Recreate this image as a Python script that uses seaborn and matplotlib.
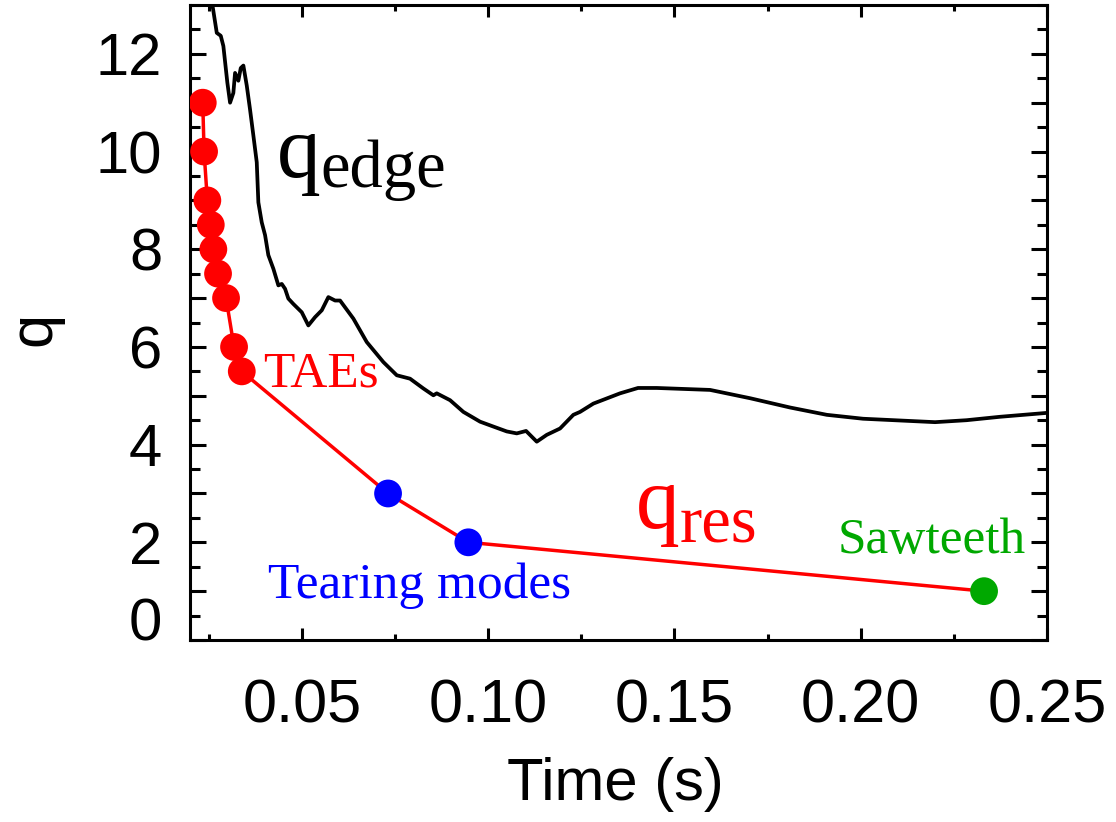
import matplotlib
matplotlib.use('Agg')
import matplotlib.pyplot as plt
from matplotlib.ticker import MultipleLocator, FixedLocator
import seaborn as sns

# ================================
# style
# ================================
sns.set_style('ticks')
plt.rcParams['font.family'] = ['Liberation Sans', 'DejaVu Sans']
plt.rcParams['text.color'] = 'black'
plt.rcParams['axes.labelcolor'] = 'black'
plt.rcParams['xtick.color'] = 'black'
plt.rcParams['ytick.color'] = 'black'

# ================================
# data
# ================================
# edge safety factor trace
t_edge = [0.0255, 0.02625, 0.02717, 0.02824, 0.02894, 0.03001, 0.03074, 0.03162,
          0.03208, 0.03296, 0.03361, 0.03431, 0.03522, 0.03610, 0.03699, 0.03790,
          0.03833, 0.03924, 0.04013, 0.04101, 0.04236, 0.04370, 0.04461, 0.04550,
          0.04638, 0.04772, 0.04998, 0.05175, 0.05355, 0.05535, 0.05712, 0.05892,
          0.06026, 0.06383, 0.06742, 0.07188, 0.07548, 0.07904, 0.08261, 0.08530,
          0.08621, 0.08978, 0.09335, 0.09783, 0.10140, 0.10500, 0.10768, 0.11018,
          0.11305, 0.11573, 0.11930, 0.12287, 0.12467, 0.12824, 0.13540, 0.14023,
          0.14525, 0.15956, 0.17030, 0.18103, 0.19090, 0.20062, 0.21995, 0.22840,
          0.23739, 0.25]
q_edge = [13.24, 12.88, 12.43, 12.37, 12.16, 11.41, 11.00, 11.20,
          11.61, 11.45, 11.71, 11.76, 11.35, 10.86, 10.33, 9.78,
          8.96, 8.55, 8.29, 7.88, 7.60, 7.26, 7.29, 7.19,
          6.99, 6.88, 6.71, 6.44, 6.61, 6.75, 7.02, 6.95,
          6.95, 6.58, 6.10, 5.69, 5.42, 5.35, 5.15, 5.01,
          5.05, 4.91, 4.67, 4.47, 4.37, 4.27, 4.23, 4.28,
          4.06, 4.20, 4.33, 4.61, 4.67, 4.84, 5.05, 5.16,
          5.16, 5.12, 4.95, 4.76, 4.61, 4.53, 4.46, 4.50,
          4.57, 4.65]

# resonant q surfaces and the instability seen there
t_res = [0.02341, 0.02376, 0.02464, 0.02556, 0.02625, 0.02751, 0.02966, 0.03181,
         0.03388, 0.07314, 0.09469, 0.2331]
q_res = [11, 10, 9, 8.5, 8, 7.5, 7, 6, 5.5, 3, 2, 1]
mode = ['TAEs'] * 9 + ['Tearing modes'] * 2 + ['Sawteeth']

mode_colors = {'TAEs': '#ff0000', 'Tearing modes': '#0000ff', 'Sawteeth': '#00a800'}

# ================================
# figure
# ================================
fig = plt.figure(figsize=(11.16, 8.22), dpi=100)
ax = fig.add_axes([0.1703, 0.2214, 0.7679, 0.7725])

sns.lineplot(x=t_edge, y=q_edge, sort=False, estimator=None,
             color='black', linewidth=2.7, ax=ax)
sns.lineplot(x=t_res, y=q_res, sort=False, estimator=None,
             color='#ff0000', linewidth=2.5, ax=ax)
sns.scatterplot(x=t_res, y=q_res, hue=mode, palette=mode_colors, s=400,
                edgecolor='none', legend=False, ax=ax, zorder=3)

ax.set_xlim(0.02, 0.25)
ax.set_ylim(0, 13)

# ticks: inward on all four sides
ax.xaxis.set_major_locator(FixedLocator([0.05, 0.10, 0.15, 0.20, 0.25]))
ax.xaxis.set_minor_locator(MultipleLocator(0.025))
ax.set_xticklabels(['0.05', '0.10', '0.15', '0.20', '0.25'])
ax.yaxis.set_major_locator(FixedLocator(list(range(0, 13))))
ax.yaxis.set_minor_locator(MultipleLocator(0.5))
ax.set_yticklabels([str(v) if v % 2 == 0 else '' for v in range(0, 13)])
ax.get_yticklabels()[0].set_va('baseline')

ax.tick_params(axis='both', which='both', direction='in', top=True, right=True,
               width=2.2, color='black', labelcolor='black')
ax.tick_params(axis='x', which='major', length=8.6, pad=28, labelsize=44)
ax.tick_params(axis='x', which='minor', length=4.3)
ax.tick_params(axis='y', which='major', length=11.5, pad=20, labelsize=43)
ax.tick_params(axis='y', which='minor', length=7)

for sp in ax.spines.values():
    sp.set_linewidth(2.2)
    sp.set_color('black')

ax.set_xlabel('Time (s)', fontsize=43)
ax.set_ylabel('q', fontsize=44)
ax.xaxis.set_label_coords(0.496, -0.185)
ax.yaxis.set_label_coords(-0.148, 0.49)

# annotations
serif = 'Liberation Serif'
ax.text(0.0433, 9.47, 'q', fontsize=63, family=serif, color='black', va='baseline')
ax.text(0.0549, 9.27, 'edge', fontsize=48, family=serif, color='black', va='baseline')
ax.text(0.1397, 2.29, 'q', fontsize=63, family=serif, color='#ff0000', va='baseline')
ax.text(0.1515, 2.02, 'res', fontsize=48, family=serif, color='#ff0000', va='baseline')
ax.text(0.0396, 5.18, 'TAEs', fontsize=37, family=serif,
        color=mode_colors['TAEs'], va='baseline')
ax.text(0.0409, 0.86, 'Tearing modes', fontsize=37, family=serif,
        color=mode_colors['Tearing modes'], va='baseline')
ax.text(0.1937, 1.78, 'Sawteeth', fontsize=37, family=serif,
        color=mode_colors['Sawteeth'], va='baseline')

fig.savefig('out.png', dpi=100)
